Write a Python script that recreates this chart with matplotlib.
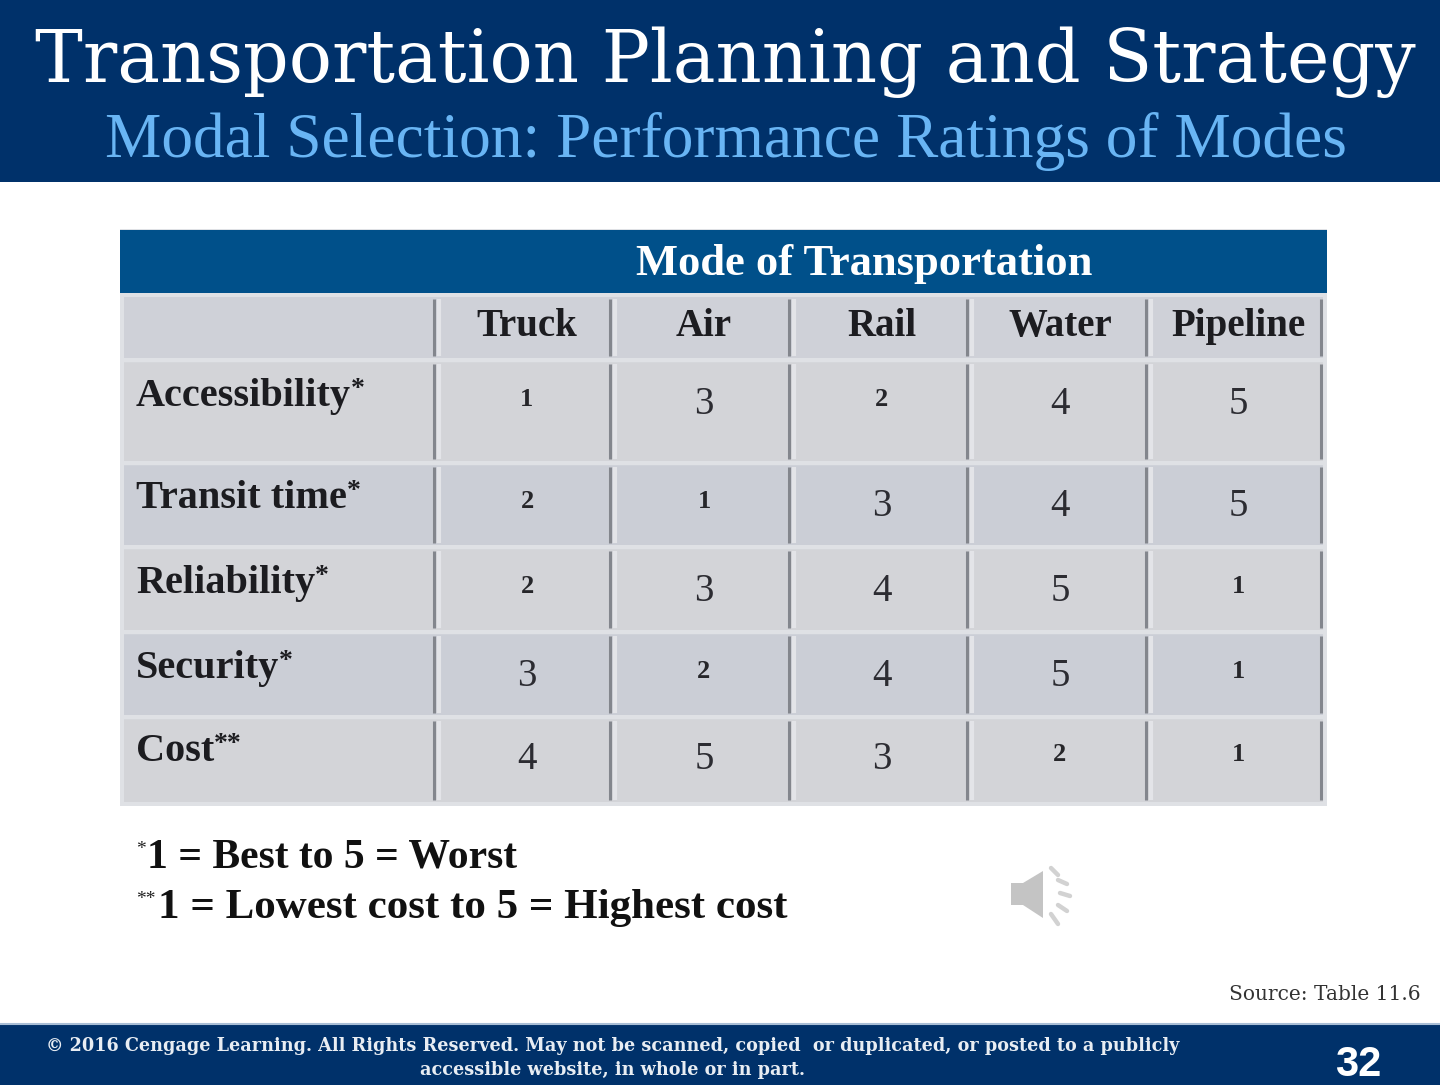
import matplotlib
matplotlib.use("Agg")
import matplotlib.pyplot as plt
from matplotlib.patches import Polygon, Rectangle

# table content
modes = ["Truck", "Air", "Rail", "Water", "Pipeline"]
factors = ["Accessibility", "Transit time", "Reliability", "Security", "Cost"]
factor_marks = ["*", "*", "*", "*", "**"]
accessibility = [1, 3, 2, 4, 5]
transit_time = [2, 1, 3, 4, 5]
reliability = [2, 3, 4, 5, 1]
security = [3, 2, 4, 5, 1]
cost = [4, 5, 3, 2, 1]
ratings = [accessibility, transit_time, reliability, security, cost]

NAVY = "#00316a"
BLUE = "#00508a"
SERIF = "Liberation Serif"
SLAB = "DejaVu Serif"

# layout in pixels
col_edges = [122, 434, 610, 789, 967, 1146, 1321]
col_centers = [527, 704, 882, 1060, 1238]
row_edges = [295, 360, 463, 547, 632, 717, 804]
row_colors = ["#cfd1d8", "#d3d4d8", "#cbced6", "#d3d4d8", "#cbced6", "#d3d4d8"]
label_y = [396, 498, 583, 668, 751]

fig = plt.figure(figsize=(14.4, 10.85), dpi=100, facecolor="white")
ax = fig.add_axes([0, 0, 1, 1])
ax.set_xlim(0, 1440)
ax.set_ylim(1085, 0)
ax.axis("off")


def band(x0, y0, x1, y1, color, **kw):
    ax.add_patch(Rectangle((x0, y0), x1 - x0, y1 - y0, facecolor=color, edgecolor="none", **kw))


# top and bottom bands
band(0, 0, 1440, 182, NAVY)
band(0, 1024, 1440, 1085, NAVY)
ax.plot([0, 1440], [1024, 1024], color="#a9bed6", lw=1.5)
ax.text(725, 82, "Transportation Planning and Strategy", color="white", family=SLAB,
        fontsize=51.6, ha="center", va="baseline")
ax.text(726, 157, "Modal Selection: Performance Ratings of Modes", color="#69b5f4",
        family=SERIF, fontsize=45.6, ha="center", va="baseline")

# table
band(120, 229, 1327, 806, "#dfe1e5")
band(120, 230, 1327, 293, BLUE)
ax.text(864, 275, "Mode of Transportation", color="white", family=SERIF, fontsize=32,
        fontweight="bold", ha="center", va="baseline")

for i, color in enumerate(row_colors):
    band(124, row_edges[i] + 2, 1323, row_edges[i + 1] - 2, color)
for y in row_edges[1:-1]:
    ax.plot([124, 1323], [y, y], color="#dfe1e5", lw=2.5)
for x in col_edges[1:]:
    for i in range(len(row_edges) - 1):
        ax.plot([x, x], [row_edges[i] + 4, row_edges[i + 1] - 4], color="#83868d", lw=2.2, solid_capstyle="butt")
        if x < col_edges[-1]:
            ax.plot([x + 5, x + 5], [row_edges[i] + 4, row_edges[i + 1] - 4], color="#e3e4e8", lw=3, solid_capstyle="butt")

for name, x in zip(modes, col_centers):
    ax.text(x, 336, name, color="#1c1c20", family=SERIF, fontsize=28, fontweight="bold",
            ha="center", va="baseline")
for name, mark, y in zip(factors, factor_marks, label_y):
    t = ax.text(136, y + 10, name, color="#1c1c20", family=SERIF, fontsize=29, fontweight="bold",
                ha="left", va="baseline")
    ax.annotate(mark, xy=(1, 1), xycoords=t, xytext=(0, 1), textcoords="offset points",
                color="#1c1c20", family=SERIF, fontsize=20, fontweight="bold", ha="left", va="top")

# old style figures: 1 and 2 sit small, 3-5 are larger and drop below the line
for y, row in zip(label_y, ratings):
    for x, value in zip(col_centers, row):
        if value < 3:
            ax.text(x, y + 10, str(value), color="#26262a", family=SERIF, fontsize=19,
                    fontweight="bold", ha="center", va="baseline")
        else:
            ax.text(x, y + 18, str(value), color="#2c2c32", family=SERIF, fontsize=28,
                    ha="center", va="baseline")

# footnotes
ax.text(136, 850, "*", color="#222222", family=SERIF, fontsize=14, ha="left", va="center")
ax.text(147, 868, "1 = Best to 5 = Worst", color="#111111", family=SERIF, fontsize=30,
        fontweight="bold", ha="left", va="baseline")
ax.text(136, 900, "**", color="#222222", family=SERIF, fontsize=14, ha="left", va="center")
ax.text(158, 918, "1 = Lowest cost to 5 = Highest cost", color="#111111", family=SERIF,
        fontsize=31, fontweight="bold", ha="left", va="baseline")

# speaker icon
ax.add_patch(Polygon([(1011, 883), (1023, 883), (1043, 871), (1043, 918), (1023, 905), (1011, 905)],
                     facecolor="#c4c4c4", edgecolor="none"))
for x0, y0, x1, y1 in [(1051, 868, 1058, 875), (1058, 880, 1067, 884), (1060, 893, 1070, 896),
                       (1058, 905, 1067, 911), (1051, 914, 1058, 924)]:
    ax.plot([x0, x1], [y0, y1], color="#d2d2d2", lw=3.2, solid_capstyle="round")

# source and footer
ax.text(1421, 995, "Source: Table 11.6", color="#333333", family=SLAB, fontsize=14.5,
        ha="right", va="center")
ax.text(613, 1046, "\u00a9 2016 Cengage Learning. All Rights Reserved. May not be scanned, copied  or duplicated, or posted to a publicly",
        color="#e8edf3", family=SLAB, fontsize=12.7, fontweight="bold", ha="center", va="center")
ax.text(613, 1070, "accessible website, in whole or in part.", color="#e8edf3", family=SLAB,
        fontsize=12.7, fontweight="bold", ha="center", va="center")
ax.text(1358, 1065, "32", color="white", family="Liberation Sans", fontsize=30, fontweight="bold",
        ha="center", va="center")

fig.savefig("out.png", dpi=100, facecolor="white")
